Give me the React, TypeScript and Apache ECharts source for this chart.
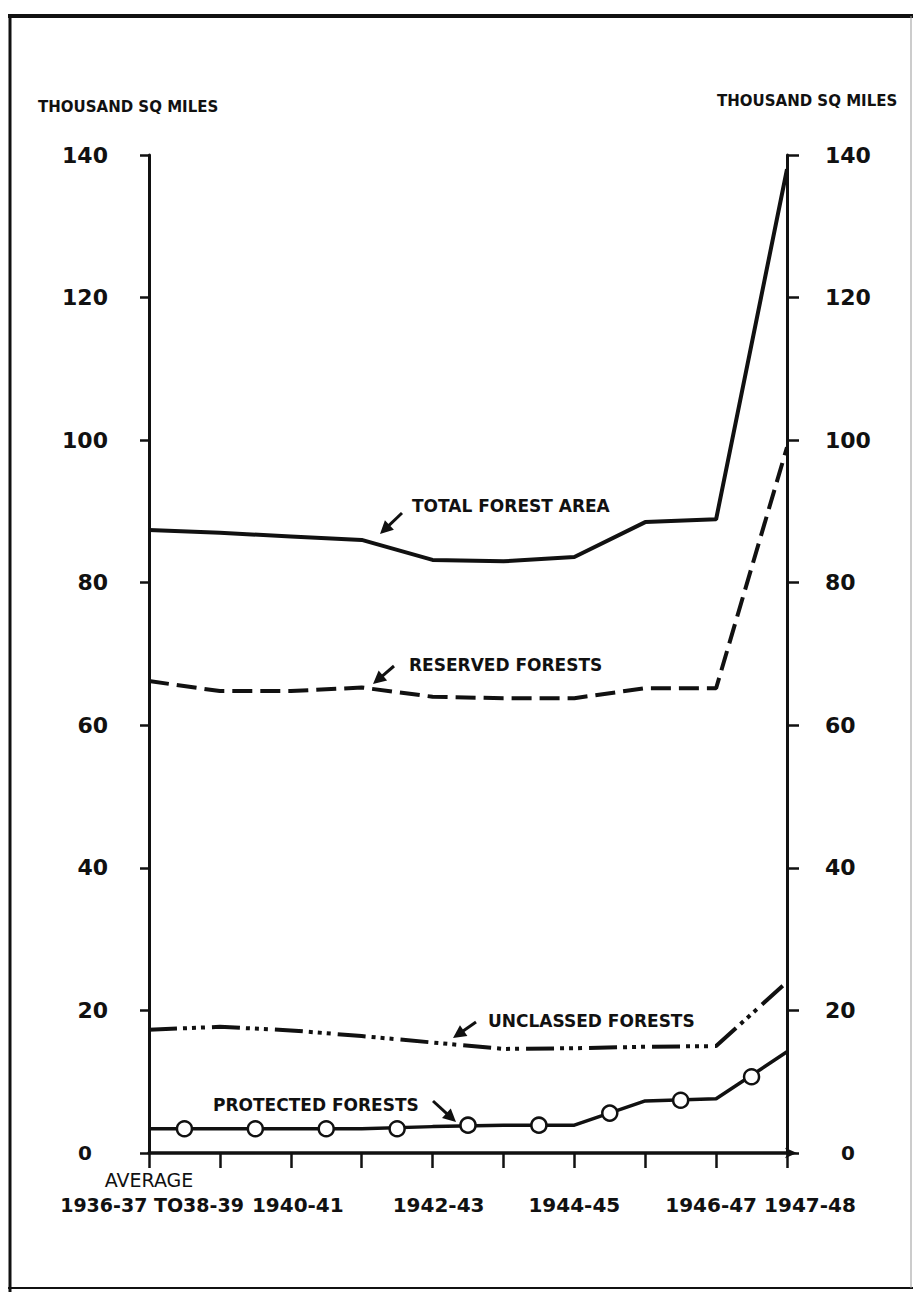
import React, { useEffect, useRef } from "react";
import * as echarts from "echarts";

// Periods (x positions 0..9, one tick per year)
const periods = [
  "Average 1936-37 to 1938-39",
  "1939-40",
  "1940-41",
  "1941-42",
  "1942-43",
  "1943-44",
  "1944-45",
  "1945-46",
  "1946-47",
  "1947-48",
];
const periodIndex = periods.map((_, i) => i);

// Series values (thousand sq miles)
const totalArea = [87.4, 87.0, 86.5, 86.0, 83.2, 83.0, 83.6, 88.5, 88.9, 138];
const reservedArea = [66.2, 64.8, 64.8, 65.3, 64.0, 63.8, 63.8, 65.2, 65.2, 99];
const unclassedArea = [17.3, 17.7, 17.2, 16.4, 15.5, 14.6, 14.7, 14.9, 15.0, 24];
const protectedArea = [3.4, 3.4, 3.4, 3.4, 3.7, 3.9, 3.9, 7.3, 7.6, 14.2];

// Circle markers on the protected-forests line (between ticks)
const protectedMarkPositions = [0.5, 1.5, 2.5, 3.5, 4.5, 5.5, 6.5, 7.5, 8.5];
const protectedMarks = [3.4, 3.4, 3.4, 3.4, 3.9, 3.9, 5.6, 7.4, 10.7];

// Tick labels
const xLabelPositions = [0, 2, 4, 6, 8, 9];
const xLabels = ["1936-37 TO38-39", "1940-41", "1942-43", "1944-45", "1946-47", "1947-48"];
const xLabelStyles = ["first", "yrA", "yrB", "yr", "yrC", "yrR"];
const yMin = 0;
const yMax = 140;
const yStep = 20;
const axisTitle = "THOUSAND SQ MILES";

const FONT = "DejaVu Sans";
const INK = "#111";

function arrow(x1: number, y1: number, x2: number, y2: number) {
  const dx = x2 - x1;
  const dy = y2 - y1;
  const len = Math.hypot(dx, dy);
  const ux = dx / len;
  const uy = dy / len;
  const hl = 13;
  const hw = 6.5;
  const bx = x2 - ux * hl;
  const by = y2 - uy * hl;
  const px = -uy;
  const py = ux;
  return [
    {
      type: "line",
      shape: { x1, y1, x2: bx + ux * 2, y2: by + uy * 2 },
      style: { stroke: INK, lineWidth: 3 },
    },
    {
      type: "polygon",
      shape: {
        points: [
          [x2, y2],
          [bx + px * hw, by + py * hw],
          [bx - px * hw, by - py * hw],
        ],
      },
      style: { fill: INK },
    },
  ];
}

function label(text: string, x: number, y: number, size = 17) {
  return {
    type: "text",
    x,
    y,
    style: {
      text,
      fontFamily: FONT,
      fontWeight: "bold",
      fontSize: size,
      fill: INK,
      align: "left",
      verticalAlign: "middle",
    },
  };
}

const yrStyle = (padding: number[], size = 20) => ({
  fontFamily: FONT,
  fontWeight: "bold",
  fontSize: size,
  lineHeight: 26,
  color: INK,
  padding,
});

const xRich = {
  avg: { fontFamily: FONT, fontSize: 19, lineHeight: 24, color: INK },
  sp: { fontFamily: FONT, fontSize: 15, lineHeight: 24, color: INK },
  first: yrStyle([0, 0, 0, 6], 19),
  yr: yrStyle([0, 0, 0, 0]),
  yrA: yrStyle([0, 0, 0, 14]),
  yrB: yrStyle([0, 0, 0, 12]),
  yrC: yrStyle([0, 10, 0, 0]),
  yrR: yrStyle([0, 0, 0, 46]),
};

function xLabelText(value: number, lastOnly: boolean) {
  const k = xLabelPositions.indexOf(value);
  if (k < 0) return "";
  const isLast = k === xLabels.length - 1;
  if (isLast !== lastOnly) return "";
  if (k === 0) return `{avg|AVERAGE}\n{first|${xLabels[0]}}`;
  return `{sp| }\n{${xLabelStyles[k]}|${xLabels[k]}}`;
}

export default function App() {
  const ref = useRef<HTMLDivElement>(null);

  useEffect(() => {
    if (!ref.current) return;
    const chart = echarts.init(ref.current, null, { renderer: "svg" });

    const pairs = (vals: number[]) => vals.map((v, i) => [periodIndex[i], v]);

    const yAxisCommon = {
      type: "value",
      min: yMin,
      max: yMax,
      interval: yStep,
      splitLine: { show: false },
      axisLine: { show: true, onZero: false, lineStyle: { color: INK, width: 3 } },
    };

    const xCommon = {
      type: "value",
      min: 0,
      max: periods.length - 1,
      interval: 1,
      position: "bottom",
      offset: 0,
      splitLine: { show: false },
    };

    const option = {
      animation: false,
      backgroundColor: "#ffffff",
      grid: { left: 149, right: 126, top: 155, bottom: 139, containLabel: false },
      xAxis: [
        {
          ...xCommon,
          axisLine: {
            show: true,
            onZero: false,
            lineStyle: { color: INK, width: 3.5 },
            symbol: ["none", "arrow"],
            symbolSize: [8, 12],
            symbolOffset: [0, 10],
          },
          axisTick: { show: true, inside: false, length: 15, lineStyle: { color: INK, width: 2.5 } },
          axisLabel: {
            show: true,
            margin: 15,
            color: INK,
            fontFamily: FONT,
            hideOverlap: false,
            formatter: (value: number) => xLabelText(value, false),
            rich: xRich,
          },
        },
        {
          ...xCommon,
          axisLine: { show: false, onZero: false },
          axisTick: { show: false },
          axisLabel: {
            show: true,
            margin: 15,
            color: INK,
            fontFamily: FONT,
            hideOverlap: false,
            showMaxLabel: true,
            formatter: (value: number) => xLabelText(value, true),
            rich: xRich,
          },
        },
      ],
      yAxis: [
        {
          ...yAxisCommon,
          position: "left",
          axisTick: { show: true, inside: false, length: 9, lineStyle: { color: INK, width: 2.5 } },
          axisLabel: {
            margin: 41,
            color: INK,
            fontFamily: FONT,
            fontWeight: "bold",
            fontSize: 22,
            formatter: (v: number) => (v === 0 ? "{z|0}" : String(v)),
            rich: {
              z: { fontFamily: FONT, fontSize: 20, color: INK, padding: [0, 16, 0, 0] },
            },
          },
        },
        {
          ...yAxisCommon,
          position: "right",
          axisTick: { show: true, inside: false, length: 12, lineStyle: { color: INK, width: 2.5 } },
          axisLabel: {
            margin: 38,
            color: INK,
            fontFamily: FONT,
            fontWeight: "bold",
            fontSize: 22,
            formatter: (v: number) => (v === 0 ? "{z|0}" : String(v)),
            rich: {
              z: { fontFamily: FONT, fontSize: 20, color: INK, padding: [0, 0, 0, 16] },
            },
          },
        },
      ],
      series: [
        {
          name: "TOTAL FOREST AREA",
          type: "line",
          data: pairs(totalArea),
          showSymbol: false,
          lineStyle: { color: INK, width: 4 },
        },
        {
          name: "RESERVED FORESTS",
          type: "line",
          data: pairs(reservedArea),
          showSymbol: false,
          lineStyle: { color: INK, width: 4, type: [20, 8] },
        },
        {
          name: "UNCLASSED FORESTS",
          type: "line",
          data: pairs(unclassedArea),
          showSymbol: false,
          lineStyle: { color: INK, width: 4, type: [28, 6, 4, 5, 4, 5, 4, 7] },
        },
        {
          name: "PROTECTED FORESTS",
          type: "line",
          data: pairs(protectedArea),
          showSymbol: false,
          lineStyle: { color: INK, width: 3.5 },
          z: 2,
        },
        {
          name: "PROTECTED FORESTS markers",
          type: "scatter",
          data: protectedMarks.map((v, i) => [protectedMarkPositions[i], v]),
          symbol: "circle",
          symbolSize: 15,
          itemStyle: { color: "#ffffff", borderColor: INK, borderWidth: 2.5, opacity: 1 },
          z: 3,
        },
      ],
      graphic: [
        // frame
        { type: "line", shape: { x1: 8, y1: 16, x2: 913, y2: 16 }, style: { stroke: INK, lineWidth: 4 } },
        { type: "line", shape: { x1: 10, y1: 16, x2: 10, y2: 1292 }, style: { stroke: INK, lineWidth: 3 } },
        { type: "line", shape: { x1: 8, y1: 1288, x2: 913, y2: 1288 }, style: { stroke: INK, lineWidth: 2 } },
        { type: "line", shape: { x1: 911, y1: 16, x2: 911, y2: 1288 }, style: { stroke: "#999", lineWidth: 1 } },
        // axis titles
        label(axisTitle, 38, 107, 15),
        label(axisTitle, 717, 101, 15),
        // annotations
        label("TOTAL FOREST AREA", 412, 506),
        ...arrow(402, 513, 380, 534),
        label("RESERVED FORESTS", 409, 665),
        ...arrow(394, 666, 373, 684),
        label("UNCLASSED FORESTS", 488, 1021),
        ...arrow(476, 1022, 453, 1038),
        label("PROTECTED FORESTS", 213, 1105),
        ...arrow(433, 1101, 456, 1122),
      ],
    };

    chart.setOption(option as any);
    return () => chart.dispose();
  }, []);

  return (
    <div
      ref={ref}
      style={{ position: "absolute", left: 0, top: 0, width: 913, height: 1292, background: "#fff" }}
    />
  );
}
